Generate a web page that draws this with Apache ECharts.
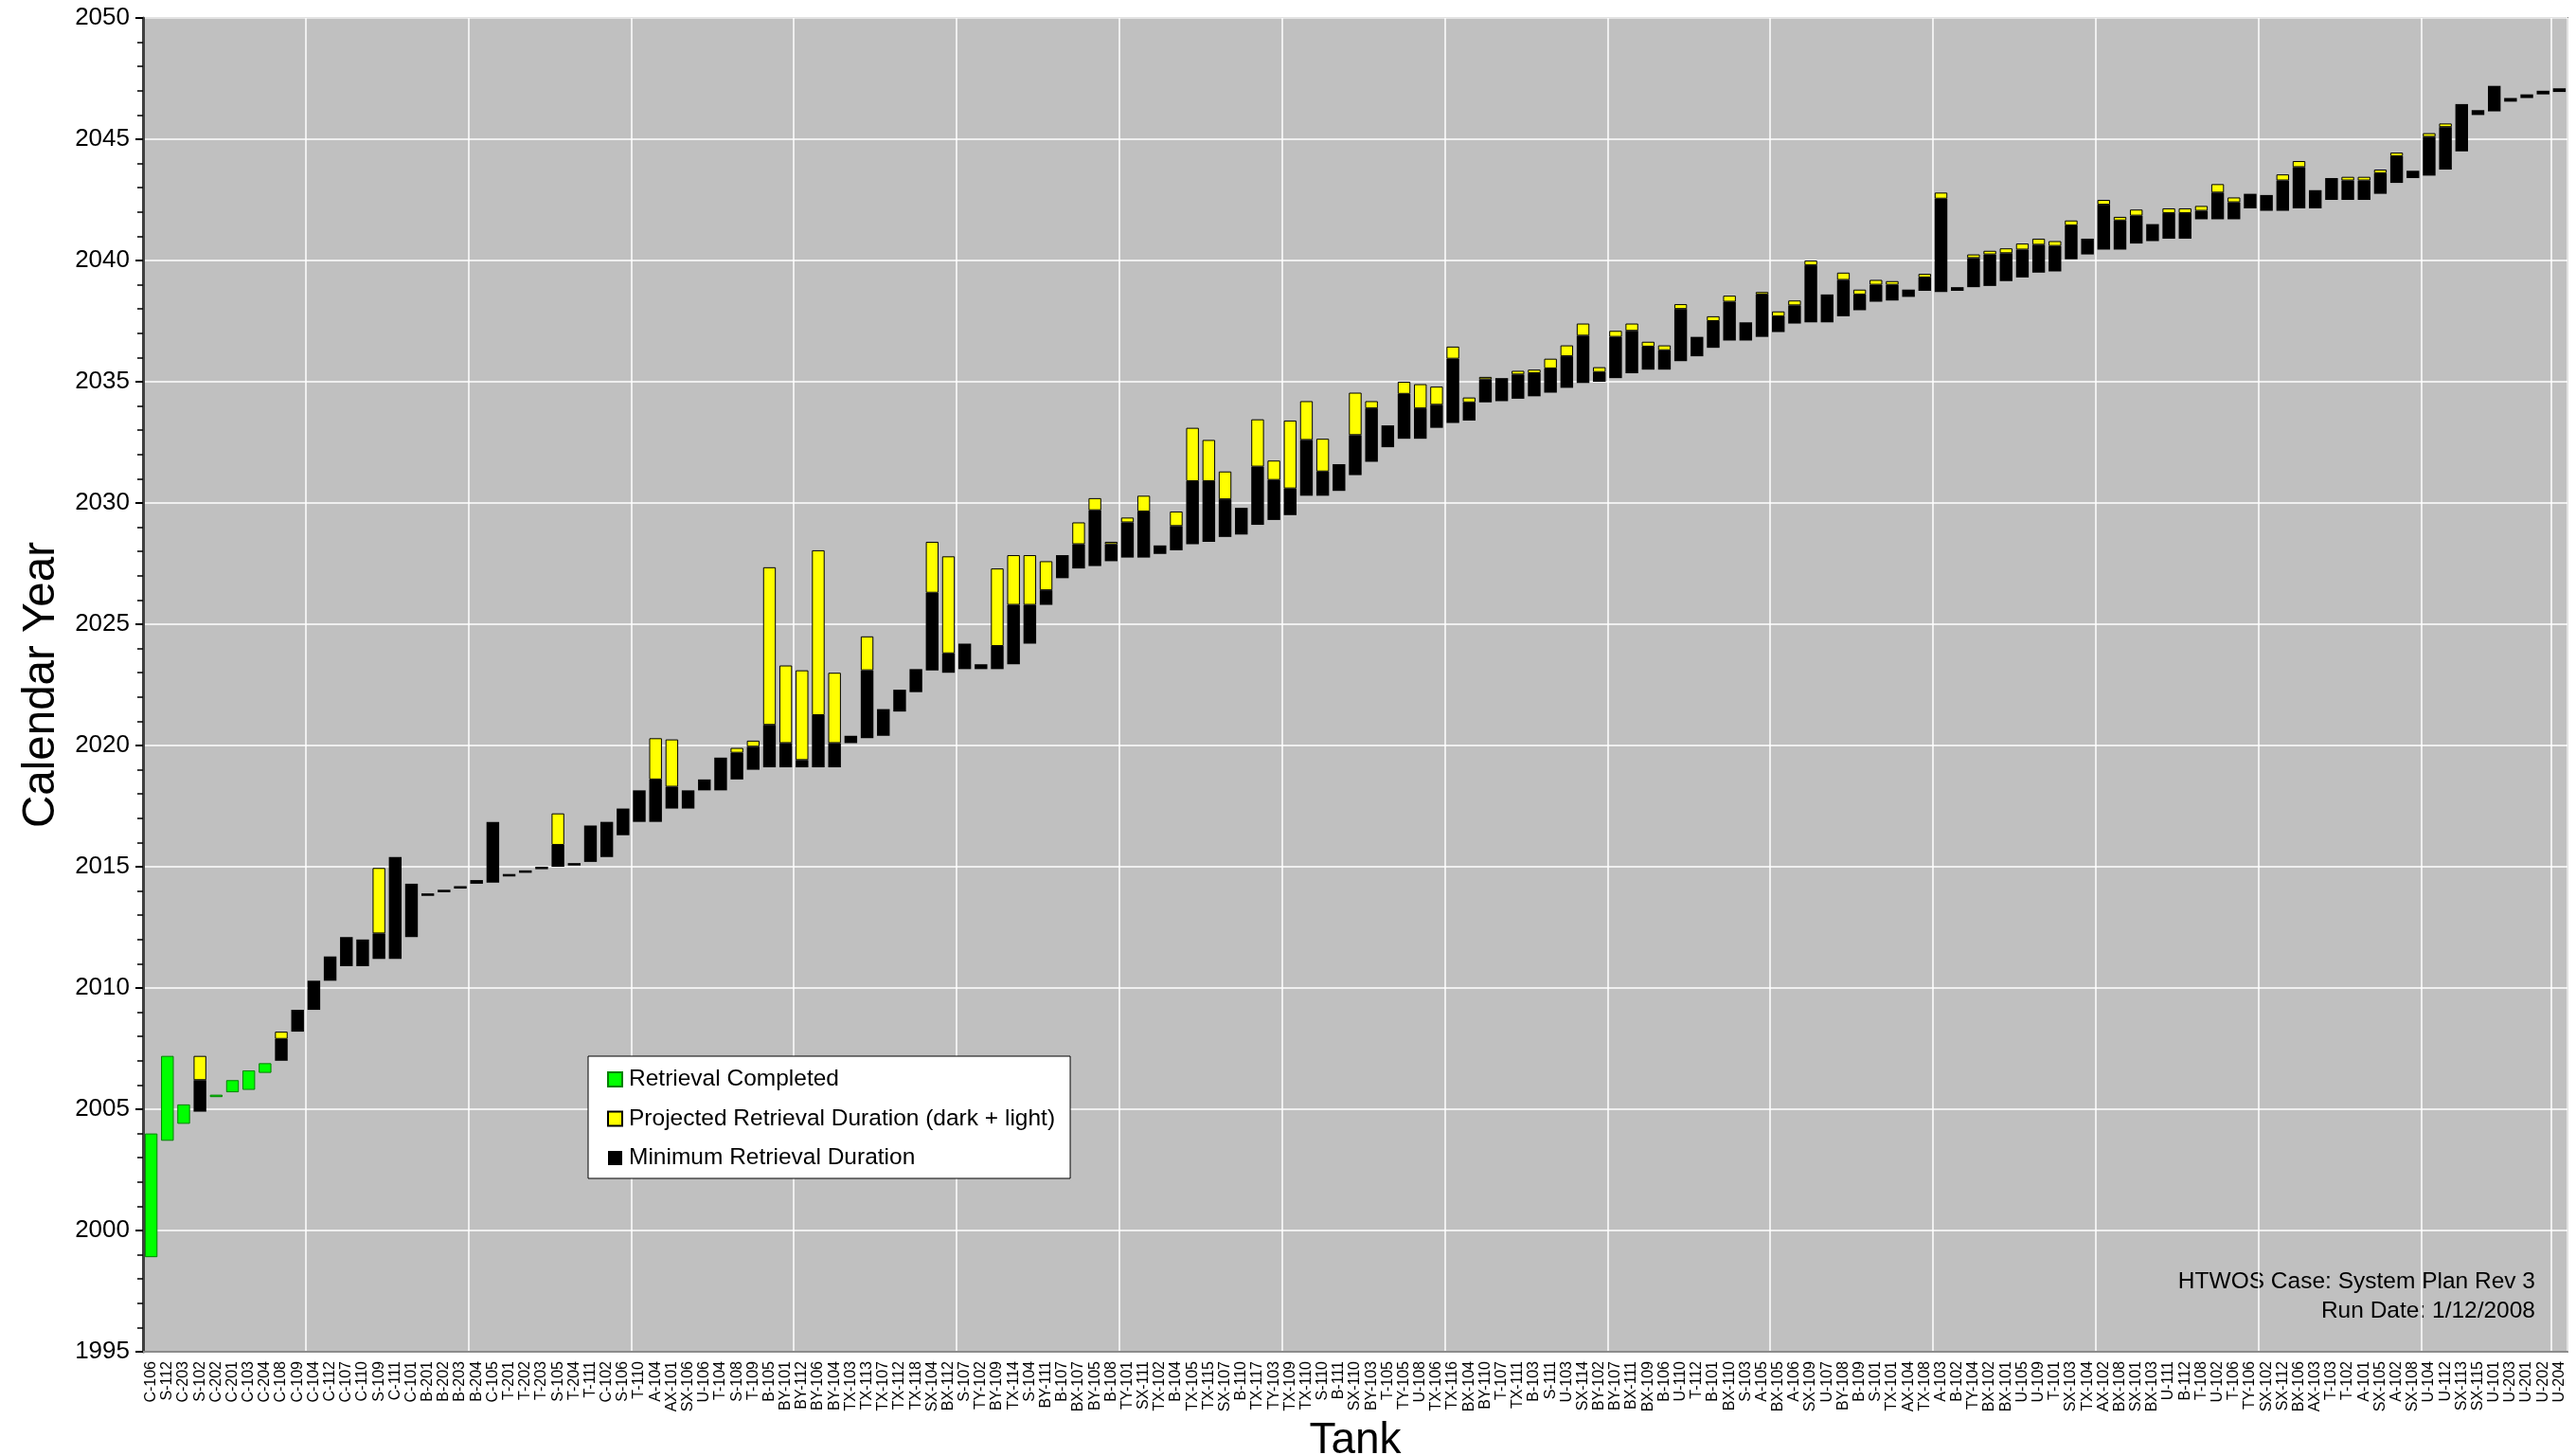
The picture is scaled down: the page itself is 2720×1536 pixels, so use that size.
<!DOCTYPE html>
<html><head><meta charset="utf-8">
<script src="https://cdn.jsdelivr.net/npm/echarts@6/dist/echarts.min.js"></script>
<style>html,body{margin:0;padding:0;background:#fff}#c{width:2720px;height:1536px}</style>
</head><body><div id="c"></div>
<script>
const tanks = ["C-106","S-112","C-203","S-102","C-202","C-201","C-103","C-204","C-108","C-109",
"C-104","C-112","C-107","C-110","S-109","C-111","C-101","B-201","B-202","B-203",
"B-204","C-105","T-201","T-202","T-203","S-105","T-204","T-111","C-102","S-106",
"T-110","A-104","AX-101","SX-106","U-106","T-104","S-108","T-109","B-105","BY-101",
"BY-112","BY-106","BY-104","TX-103","TX-113","TX-107","TX-112","TX-118","SX-104","BX-112",
"S-107","TY-102","BY-109","TX-114","S-104","BY-111","B-107","BX-107","BY-105","B-108",
"TY-101","SX-111","TX-102","B-104","TX-105","TX-115","SX-107","B-110","TX-117","TY-103",
"TX-109","TX-110","S-110","B-111","SX-110","BY-103","T-105","TY-105","U-108","TX-106",
"TX-116","BX-104","BY-110","T-107","TX-111","B-103","S-111","U-103","SX-114","BY-102",
"BY-107","BX-111","BX-109","B-106","U-110","T-112","B-101","BX-110","S-103","A-105",
"BX-105","A-106","SX-109","U-107","BY-108","B-109","S-101","TX-101","AX-104","TX-108",
"A-103","B-102","TY-104","BX-102","BX-101","U-105","U-109","T-101","SX-103","TX-104",
"AX-102","BX-108","SX-101","BX-103","U-111","B-112","T-108","U-102","T-106","TY-106",
"SX-102","SX-112","BX-106","AX-103","T-103","T-102","A-101","SX-105","A-102","SX-108",
"U-104","U-112","SX-113","SX-115","U-101","U-203","U-201","U-202","U-204"];

// year each bar starts
const startYear = [1998.9,2003.7,2004.4,2004.9,2005.5,2005.7,2005.8,2006.5,2007.0,2008.2,
2009.1,2010.3,2010.9,2010.9,2011.2,2011.2,2012.1,2013.8,2013.95,2014.1,
2014.3,2014.35,2014.6,2014.75,2014.9,2015.0,2015.05,2015.2,2015.4,2016.3,
2016.85,2016.85,2017.4,2017.4,2018.15,2018.15,2018.6,2019.0,2019.1,2019.1,
2019.1,2019.1,2019.1,2020.1,2020.3,2020.4,2021.4,2022.2,2023.1,2023.0,
2023.15,2023.15,2023.15,2023.35,2024.2,2025.8,2026.9,2027.3,2027.4,2027.6,
2027.75,2027.75,2027.9,2028.05,2028.3,2028.4,2028.6,2028.7,2029.1,2029.3,
2029.5,2030.3,2030.3,2030.5,2031.15,2031.7,2032.3,2032.65,2032.65,2033.1,
2033.3,2033.4,2034.15,2034.2,2034.3,2034.4,2034.55,2034.75,2034.95,2035.0,
2035.15,2035.35,2035.5,2035.5,2035.85,2036.05,2036.4,2036.7,2036.7,2036.85,
2037.05,2037.4,2037.45,2037.45,2037.7,2037.95,2038.3,2038.35,2038.5,2038.75,
2038.7,2038.75,2038.9,2038.95,2039.15,2039.3,2039.5,2039.55,2040.05,2040.25,
2040.45,2040.45,2040.7,2040.8,2040.9,2040.9,2041.7,2041.7,2041.7,2042.15,
2042.05,2042.05,2042.15,2042.15,2042.5,2042.5,2042.5,2042.75,2043.2,2043.4,
2043.5,2043.75,2044.5,2046.0,2046.15,2046.55,2046.7,2046.85,2046.95];

// year retrieval was completed (green bars only)
const completedYear = [2004.0,2007.2,2005.2,null,2005.6,2006.2,2006.6,2006.9,null,null,
null,null,null,null,null,null,null,null,null,null,
null,null,null,null,null,null,null,null,null,null,
null,null,null,null,null,null,null,null,null,null,
null,null,null,null,null,null,null,null,null,null,
null,null,null,null,null,null,null,null,null,null,
null,null,null,null,null,null,null,null,null,null,
null,null,null,null,null,null,null,null,null,null,
null,null,null,null,null,null,null,null,null,null,
null,null,null,null,null,null,null,null,null,null,
null,null,null,null,null,null,null,null,null,null,
null,null,null,null,null,null,null,null,null,null,
null,null,null,null,null,null,null,null,null,null,
null,null,null,null,null,null,null,null,null,null,
null,null,null,null,null,null,null,null,null];

// end of the minimum retrieval duration (black)
const minimumEnd = [null,null,null,2006.2,null,null,null,null,2007.9,2009.1,
2010.3,2011.3,2012.1,2012.0,2012.25,2015.4,2014.3,2013.9,2014.05,2014.2,
2014.45,2016.85,2014.7,2014.85,2015.0,2015.9,2015.15,2016.7,2016.85,2017.4,
2018.15,2018.6,2018.3,2018.15,2018.6,2019.5,2019.7,2019.95,2020.85,2020.1,
2019.4,2021.25,2020.1,2020.4,2023.1,2021.5,2022.3,2023.15,2026.3,2023.8,
2024.2,2023.35,2024.1,2025.8,2025.8,2026.4,2027.85,2028.3,2029.7,2028.3,
2029.2,2029.65,2028.25,2029.05,2030.9,2030.9,2030.15,2029.8,2031.5,2030.95,
2030.6,2032.6,2031.3,2031.6,2032.8,2033.9,2033.2,2034.5,2033.9,2034.05,
2035.95,2034.15,2035.1,2035.15,2035.3,2035.35,2035.55,2036.05,2036.9,2035.4,
2036.85,2037.1,2036.45,2036.3,2038.0,2036.85,2037.5,2038.3,2037.45,2038.6,
2037.7,2038.15,2039.8,2038.6,2039.2,2038.6,2039.0,2039.0,2038.8,2039.3,
2042.55,2038.9,2040.1,2040.25,2040.3,2040.45,2040.65,2040.6,2041.45,2040.9,
2042.3,2041.65,2041.85,2041.5,2041.95,2041.95,2042.05,2042.8,2042.4,2042.75,
2042.7,2043.3,2043.85,2042.9,2043.4,2043.3,2043.3,2043.6,2044.3,2043.7,
2045.1,2045.5,2046.45,2046.2,2047.2,2046.7,2046.85,2047.0,2047.1];

// end of the projected retrieval duration (yellow top)
const projectedEnd = [null,null,null,2007.2,null,null,null,null,2008.2,null,
null,null,null,null,2014.95,null,null,null,null,null,
null,null,null,null,null,2017.2,null,null,null,null,
null,2020.3,2020.25,null,null,null,2019.9,2020.2,2027.35,2023.3,
2023.1,2028.05,2023.0,null,2024.5,null,null,null,2028.4,2027.8,
null,null,2027.3,2027.85,2027.85,2027.6,null,2029.2,2030.2,2028.4,
2029.4,2030.3,null,2029.65,2033.1,2032.6,2031.3,null,2033.45,2031.75,
2033.4,2034.2,2032.65,null,2034.55,2034.2,null,2035.0,2034.9,2034.8,
2036.45,2034.35,2035.2,null,2035.45,2035.5,2035.95,2036.5,2037.4,2035.6,
2037.1,2037.4,2036.65,2036.5,2038.2,null,2037.7,2038.55,null,2038.7,
2037.9,2038.35,2040.0,null,2039.5,2038.8,2039.2,2039.15,null,2039.45,
2042.8,null,2040.25,2040.4,2040.5,2040.7,2040.9,2040.8,2041.65,null,
2042.5,2041.8,2042.1,null,2042.15,2042.15,2042.25,2043.15,2042.6,null,
null,2043.55,2044.1,null,null,2043.45,2043.45,2043.75,2044.45,null,
2045.25,2045.65,null,null,null,null,null,null,null];

const yTicks = {min:1995, max:2050, step:5};

const r = v => Math.round(v*1000)/1000;
const baseData = startYear.map(v => v);
const greenData = completedYear.map((v,i) => v==null ? null : r(v - startYear[i]));
const blackData = minimumEnd.map((v,i) => v==null ? null : r(v - startYear[i]));
const yellowData = projectedEnd.map((v,i) => v==null ? null : r(v - minimumEnd[i]));

const FONT = '"Liberation Sans", Arial, sans-serif';
const chart = echarts.init(document.getElementById('c'), null, {renderer:'canvas'});
chart.setOption({
  animation:false,
  backgroundColor:'#ffffff',
  grid:{left:151, right:9, top:19, bottom:109, outerBoundsMode:'none', containLabel:false, show:true, backgroundColor:'#c0c0c0', borderColor:'#8c8c8c', borderWidth:2},
  legend:{
    orient:'vertical', left:621, top:1115,
    backgroundColor:'#ffffff', borderColor:'#000000', borderWidth:1,
    padding:[12,16,9,20], itemGap:16.5, itemWidth:15, itemHeight:15,
    textStyle:{fontFamily:FONT, fontSize:24.5, color:'#000', padding:[0,0,0,2]},
    data:[{name:'Retrieval Completed', icon:'rect'},{name:'Projected Retrieval Duration (dark + light)', icon:'rect'},{name:'Minimum Retrieval Duration', icon:'rect'}]
  },
  xAxis:{
    type:'category', data:tanks,
    name:'Tank', nameLocation:'middle', nameGap:60,
    nameTextStyle:{fontFamily:FONT, fontSize:46, color:'#000'},
    axisLine:{show:true, lineStyle:{color:'#8c8c8c', width:2}},
    axisTick:{show:false},
    axisLabel:{rotate:90, interval:0, fontFamily:FONT, fontSize:16, color:'#000', margin:10},
    splitLine:{show:true, interval:9, lineStyle:{color:'#ffffff', width:1.5}}
  },
  yAxis:{
    type:'value', min:yTicks.min, max:yTicks.max, interval:yTicks.step,
    name:'Calendar Year', nameLocation:'middle', nameGap:78, nameRotate:90,
    nameTextStyle:{fontFamily:FONT, fontSize:47.5, color:'#000'},
    axisLine:{show:true, lineStyle:{color:'#404040', width:3}},
    axisTick:{show:true, length:8, lineStyle:{color:'#000', width:2}},
    minorTick:{show:true, splitNumber:5, length:6, lineStyle:{color:'#000', width:1.5}},
    axisLabel:{fontFamily:FONT, fontSize:26, color:'#000', margin:14, formatter:v => String(v)},
    splitLine:{show:true, lineStyle:{color:'#ffffff', width:1.5}}
  },
  series:[
    {name:'base', type:'bar', stack:'s', data:baseData, silent:true, itemStyle:{color:'rgba(0,0,0,0)'}, barCategoryGap:'22%'},
    {name:'Retrieval Completed', type:'bar', stack:'s', data:greenData, itemStyle:{color:'#00ff00', borderColor:'#008000', borderWidth:1}},
    {name:'Minimum Retrieval Duration', type:'bar', stack:'s', data:blackData, itemStyle:{color:'#000000'}},
    {name:'Projected Retrieval Duration (dark + light)', type:'bar', stack:'s', data:yellowData, itemStyle:{color:'#ffff00', borderColor:'#000000', borderWidth:1}}
  ],
  graphic:[
    {type:'text', right:2720-2677, top:1341, style:{text:'HTWOS Case: System Plan Rev 3', font:'24.5px '+FONT, fill:'#000', textAlign:'right'}},
    {type:'text', right:2720-2677, top:1372, style:{text:'Run Date: 1/12/2008', font:'24.5px '+FONT, fill:'#000', textAlign:'right'}}
  ]
});
</script></body></html>
